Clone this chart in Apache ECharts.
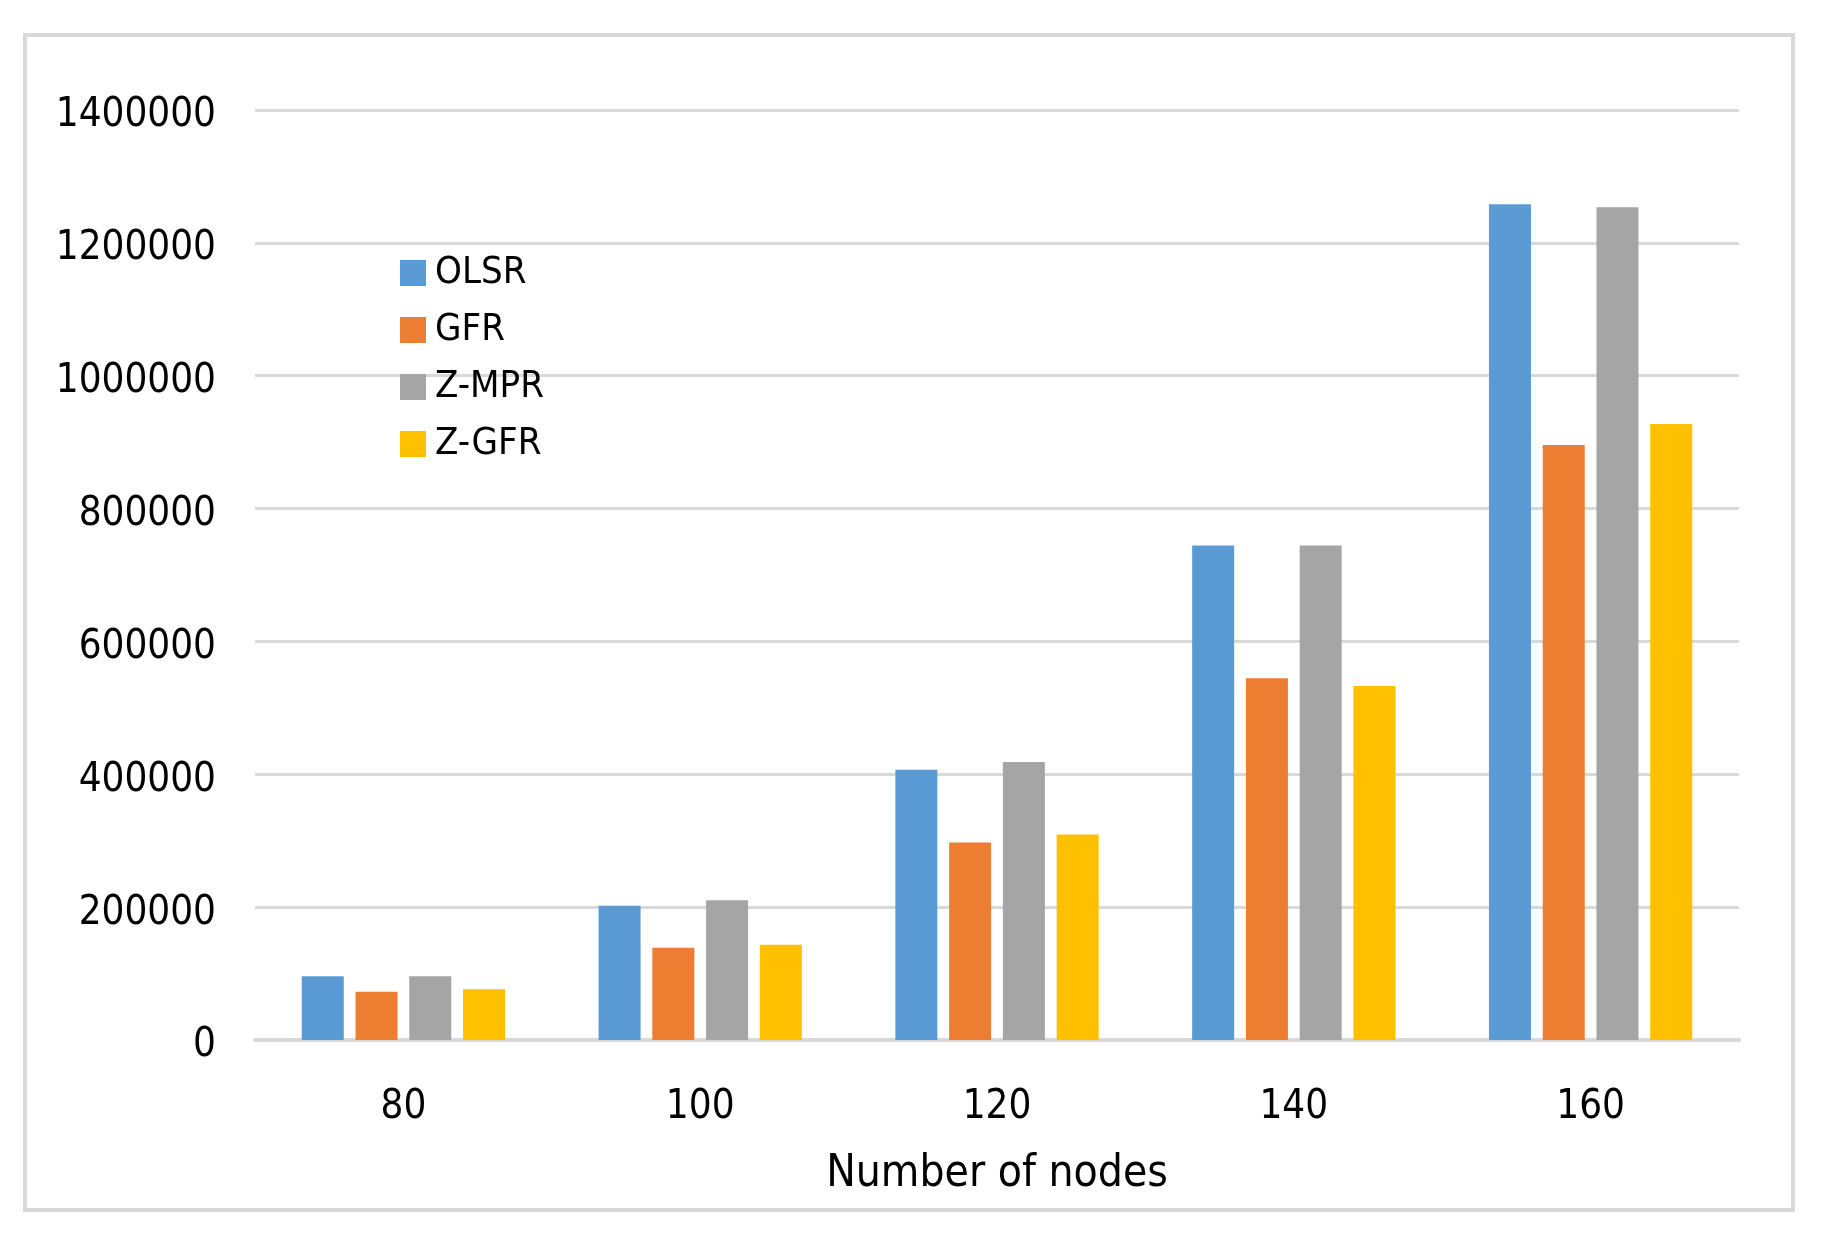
<!DOCTYPE html>
<html>
<head>
<meta charset="utf-8">
<title>Number of nodes</title>
<script src="https://cdn.jsdelivr.net/npm/echarts@6/dist/echarts.min.js"></script>
<style>
  html, body { margin: 0; padding: 0; background: #fff; }
  #chart { width: 1830px; height: 1246px; }
</style>
</head>
<body>
<div id="chart"></div>
<script>
// values
const categories = ['80', '100', '120', '140', '160'];
const seriesNames = ['OLSR', 'GFR', 'Z-MPR', 'Z-GFR'];
const olsr = [95800, 202000, 407000, 744500, 1258000];
const gfr  = [72700, 139000, 297500, 544500, 895800];
const zmpr = [95800, 210500, 418500, 744500, 1253500];
const zgfr = [76300, 143500, 309500, 533000, 927400];
const yMin = 0, yMax = 1400000, yStep = 200000;

const colors = ['#5B9BD5', '#ED7D31', '#A5A5A5', '#FFC000'];
const font = '"DejaVu Sans Condensed", "Liberation Sans", sans-serif';

const chart = echarts.init(document.getElementById('chart'));

function bar(name, data, i) {
    return {
        name: name,
        type: 'bar',
        data: data,
        barWidth: 42,
        barGap: '28%',
        itemStyle: { color: colors[i] }
    };
}

chart.setOption({
    animation: false,
    backgroundColor: '#fff',
    textStyle: { fontFamily: font },
    graphic: [{
        type: 'rect',
        shape: { x: 25, y: 35, width: 1768, height: 1175 },
        style: { fill: 'none', stroke: '#d9d9d9', lineWidth: 4 },
        silent: true
    }],
    grid: { left: 255, right: 91, top: 110, bottom: 206 },
    legend: {
        orient: 'vertical',
        left: 395,
        top: 246,
        itemWidth: 26,
        itemHeight: 26,
        itemGap: 13,
        icon: 'rect',
        textStyle: { fontFamily: font, fontSize: 38, color: '#000', lineHeight: 44, padding: [0, 0, 0, 4] },
        data: seriesNames
    },
    xAxis: {
        type: 'category',
        data: categories,
        name: 'Number of nodes',
        nameLocation: 'middle',
        nameGap: 113,
        nameTextStyle: { fontFamily: font, fontSize: 44, color: '#000' },
        axisLine: { lineStyle: { color: '#d9d9d9', width: 4 } },
        axisTick: { show: false },
        axisLabel: { fontFamily: font, fontSize: 40, color: '#000', margin: 48 }
    },
    yAxis: {
        type: 'value',
        min: yMin,
        max: yMax,
        interval: yStep,
        axisLine: { show: false },
        axisTick: { show: false },
        axisLabel: {
            fontFamily: font, fontSize: 40, color: '#000', margin: 39,
            formatter: function (v) { return '{v|' + v + '}'; },
            rich: { v: { fontFamily: font, fontSize: 40, color: '#000', padding: [12, 0, 0, 0] } }
        },
        splitLine: { lineStyle: { color: '#d9d9d9', width: 3 } }
    },
    series: [
        bar(seriesNames[0], olsr, 0),
        bar(seriesNames[1], gfr, 1),
        bar(seriesNames[2], zmpr, 2),
        bar(seriesNames[3], zgfr, 3)
    ]
});
</script>
</body>
</html>
